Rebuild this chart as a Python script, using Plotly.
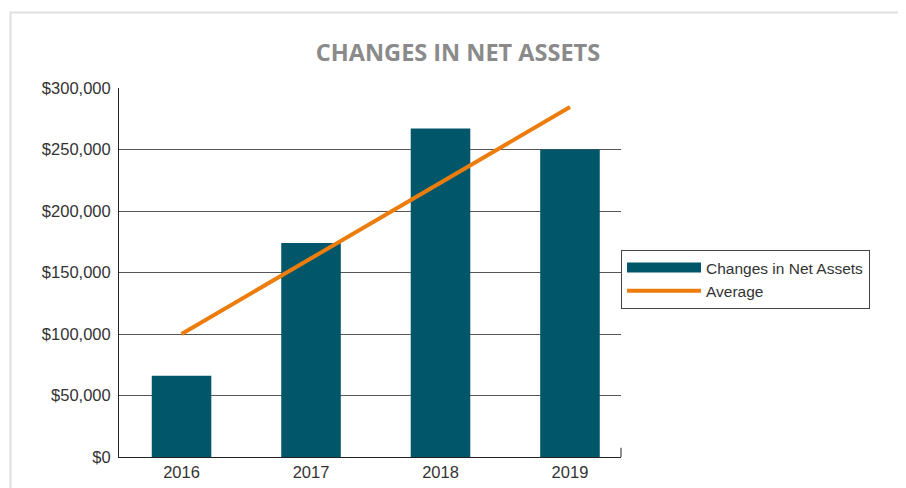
import plotly.graph_objects as go

# Values
years = ["2016", "2017", "2018", "2019"]
net_assets = [66000, 174000, 267000, 250000]
average = [100000, 161500, 223000, 284500]
y_ticks = [0, 50000, 100000, 150000, 200000, 250000, 300000]
y_tick_labels = ["$0", "$50,000", "$100,000", "$150,000", "$200,000", "$250,000", "$300,000"]

BAR_COLOR = "#02566a"
LINE_COLOR = "#ec7d0d"
TEXT_COLOR = "#333333"

# page body adds an 8px offset, so the figure is drawn 8px smaller
W, H = 898, 480
L, T = 111, 80
PW, PH = 502, 369

fig = go.Figure()

fig.add_trace(
    go.Bar(
        x=years,
        y=net_assets,
        name="Changes in Net Assets",
        marker=dict(color=BAR_COLOR, line=dict(width=0)),
        width=0.46,
        showlegend=False,
    )
)
# legend swatch for the bars (wide bar-like stroke)
fig.add_trace(
    go.Scatter(
        x=[None],
        y=[None],
        mode="lines",
        name="Changes in Net Assets",
        line=dict(color=BAR_COLOR, width=10),
    )
)

fig.add_trace(
    go.Scatter(
        x=years,
        y=average,
        mode="lines",
        name="Average",
        line=dict(color=LINE_COLOR, width=4),
    )
)

# light outer frame around the chart card
fig.add_shape(
    type="rect",
    xref="paper",
    yref="paper",
    x0=(2.5 - L) / PW,
    x1=(896 - L) / PW,
    y0=-0.15,
    y1=(T + PH - 4.5) / PH,
    line=dict(color="#e0e0e0", width=2),
    layer="below",
)
# small tick at the right end of the x axis
fig.add_shape(
    type="line",
    xref="paper",
    yref="paper",
    x0=1,
    x1=1,
    y0=0,
    y1=0.025,
    line=dict(color="#222222", width=1),
)

fig.update_layout(
    width=W,
    height=H,
    margin=dict(l=L, r=W - L - PW, t=T, b=H - T - PH, autoexpand=False),
    paper_bgcolor="white",
    plot_bgcolor="white",
    font=dict(family="Liberation Sans, Arial, sans-serif", size=16, color=TEXT_COLOR),
    title=dict(
        text="<b>CHANGES IN NET ASSETS</b>",
        x=450 / W,
        xanchor="center",
        xref="container",
        y=1 - 45 / H,
        yref="container",
        yanchor="middle",
        font=dict(family="Open Sans, sans-serif", size=23.5, color="#8a8a8a"),
    ),
    xaxis=dict(
        type="category",
        range=[-0.483, 3.394],
        showgrid=False,
        showline=True,
        linecolor="#222222",
        linewidth=1,
        ticks="",
        tickfont=dict(size=16.5, color=TEXT_COLOR),
        automargin=False,
    ),
    yaxis=dict(
        range=[0, 300000],
        tickvals=y_ticks,
        ticktext=y_tick_labels,
        showgrid=True,
        gridcolor="#555555",
        gridwidth=1,
        showline=True,
        linecolor="#222222",
        linewidth=1,
        zeroline=False,
        ticks="",
        ticklabelstandoff=4,
        tickfont=dict(size=16.5, color=TEXT_COLOR),
        automargin=False,
    ),
    showlegend=True,
    legend=dict(
        x=(621 - 8 - L) / PW,
        y=(T + PH - (250 - 8)) / PH,
        xanchor="left",
        yanchor="top",
        bordercolor="#444444",
        borderwidth=1,
        itemwidth=74,
        tracegroupgap=0,
        font=dict(size=15.5, color=TEXT_COLOR),
    ),
)

fig.write_html("out.html")
